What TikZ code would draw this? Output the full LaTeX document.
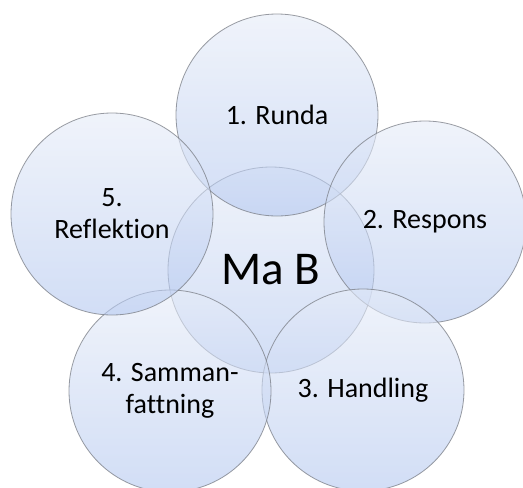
\documentclass[tikz,border=0pt]{standalone}
\usepackage{fontspec}
\setmainfont{Carlito}[Ligatures={NoCommon}]
\usepackage{tikz}

\definecolor{bubbletop}{RGB}{230,236,248}
\definecolor{bubblebot}{RGB}{180,200,240}
\definecolor{bubbleedge}{RGB}{120,124,132}

\tikzset{
  bubble/.style={circle, minimum size=202pt, inner sep=0pt, outer sep=0pt,
    draw=bubbleedge, draw opacity=0.75, line width=0.8pt,
    top color=bubbletop, bottom color=bubblebot, fill opacity=0.6,
    text opacity=1, align=center, font=\fontsize{28}{32}\selectfont}
}

\begin{document}
\begin{tikzpicture}[x=1pt,y=-1pt]
        \useasboundingbox (0,0) rectangle (523,488);
        \fill[white] (0,0) rectangle (523,488);

        % Draw the circles
        \node[bubble, minimum size=206pt, font=\fontsize{47}{50}\selectfont] (mab) at (271,270) {Ma B};
        \node[bubble] (runda) at (277,115) {1. Runda};
        \node[bubble] (respons) at (425,222) {2. Respons};
        \node[bubble] (handling) at (363,390) {3. Handling};
        \node[bubble] (samman) at (170,391) {4. Samman-\\fattning};
        \node[bubble] (reflektion) at (112,214) {5.\\Reflektion};
\end{tikzpicture}
\end{document}
